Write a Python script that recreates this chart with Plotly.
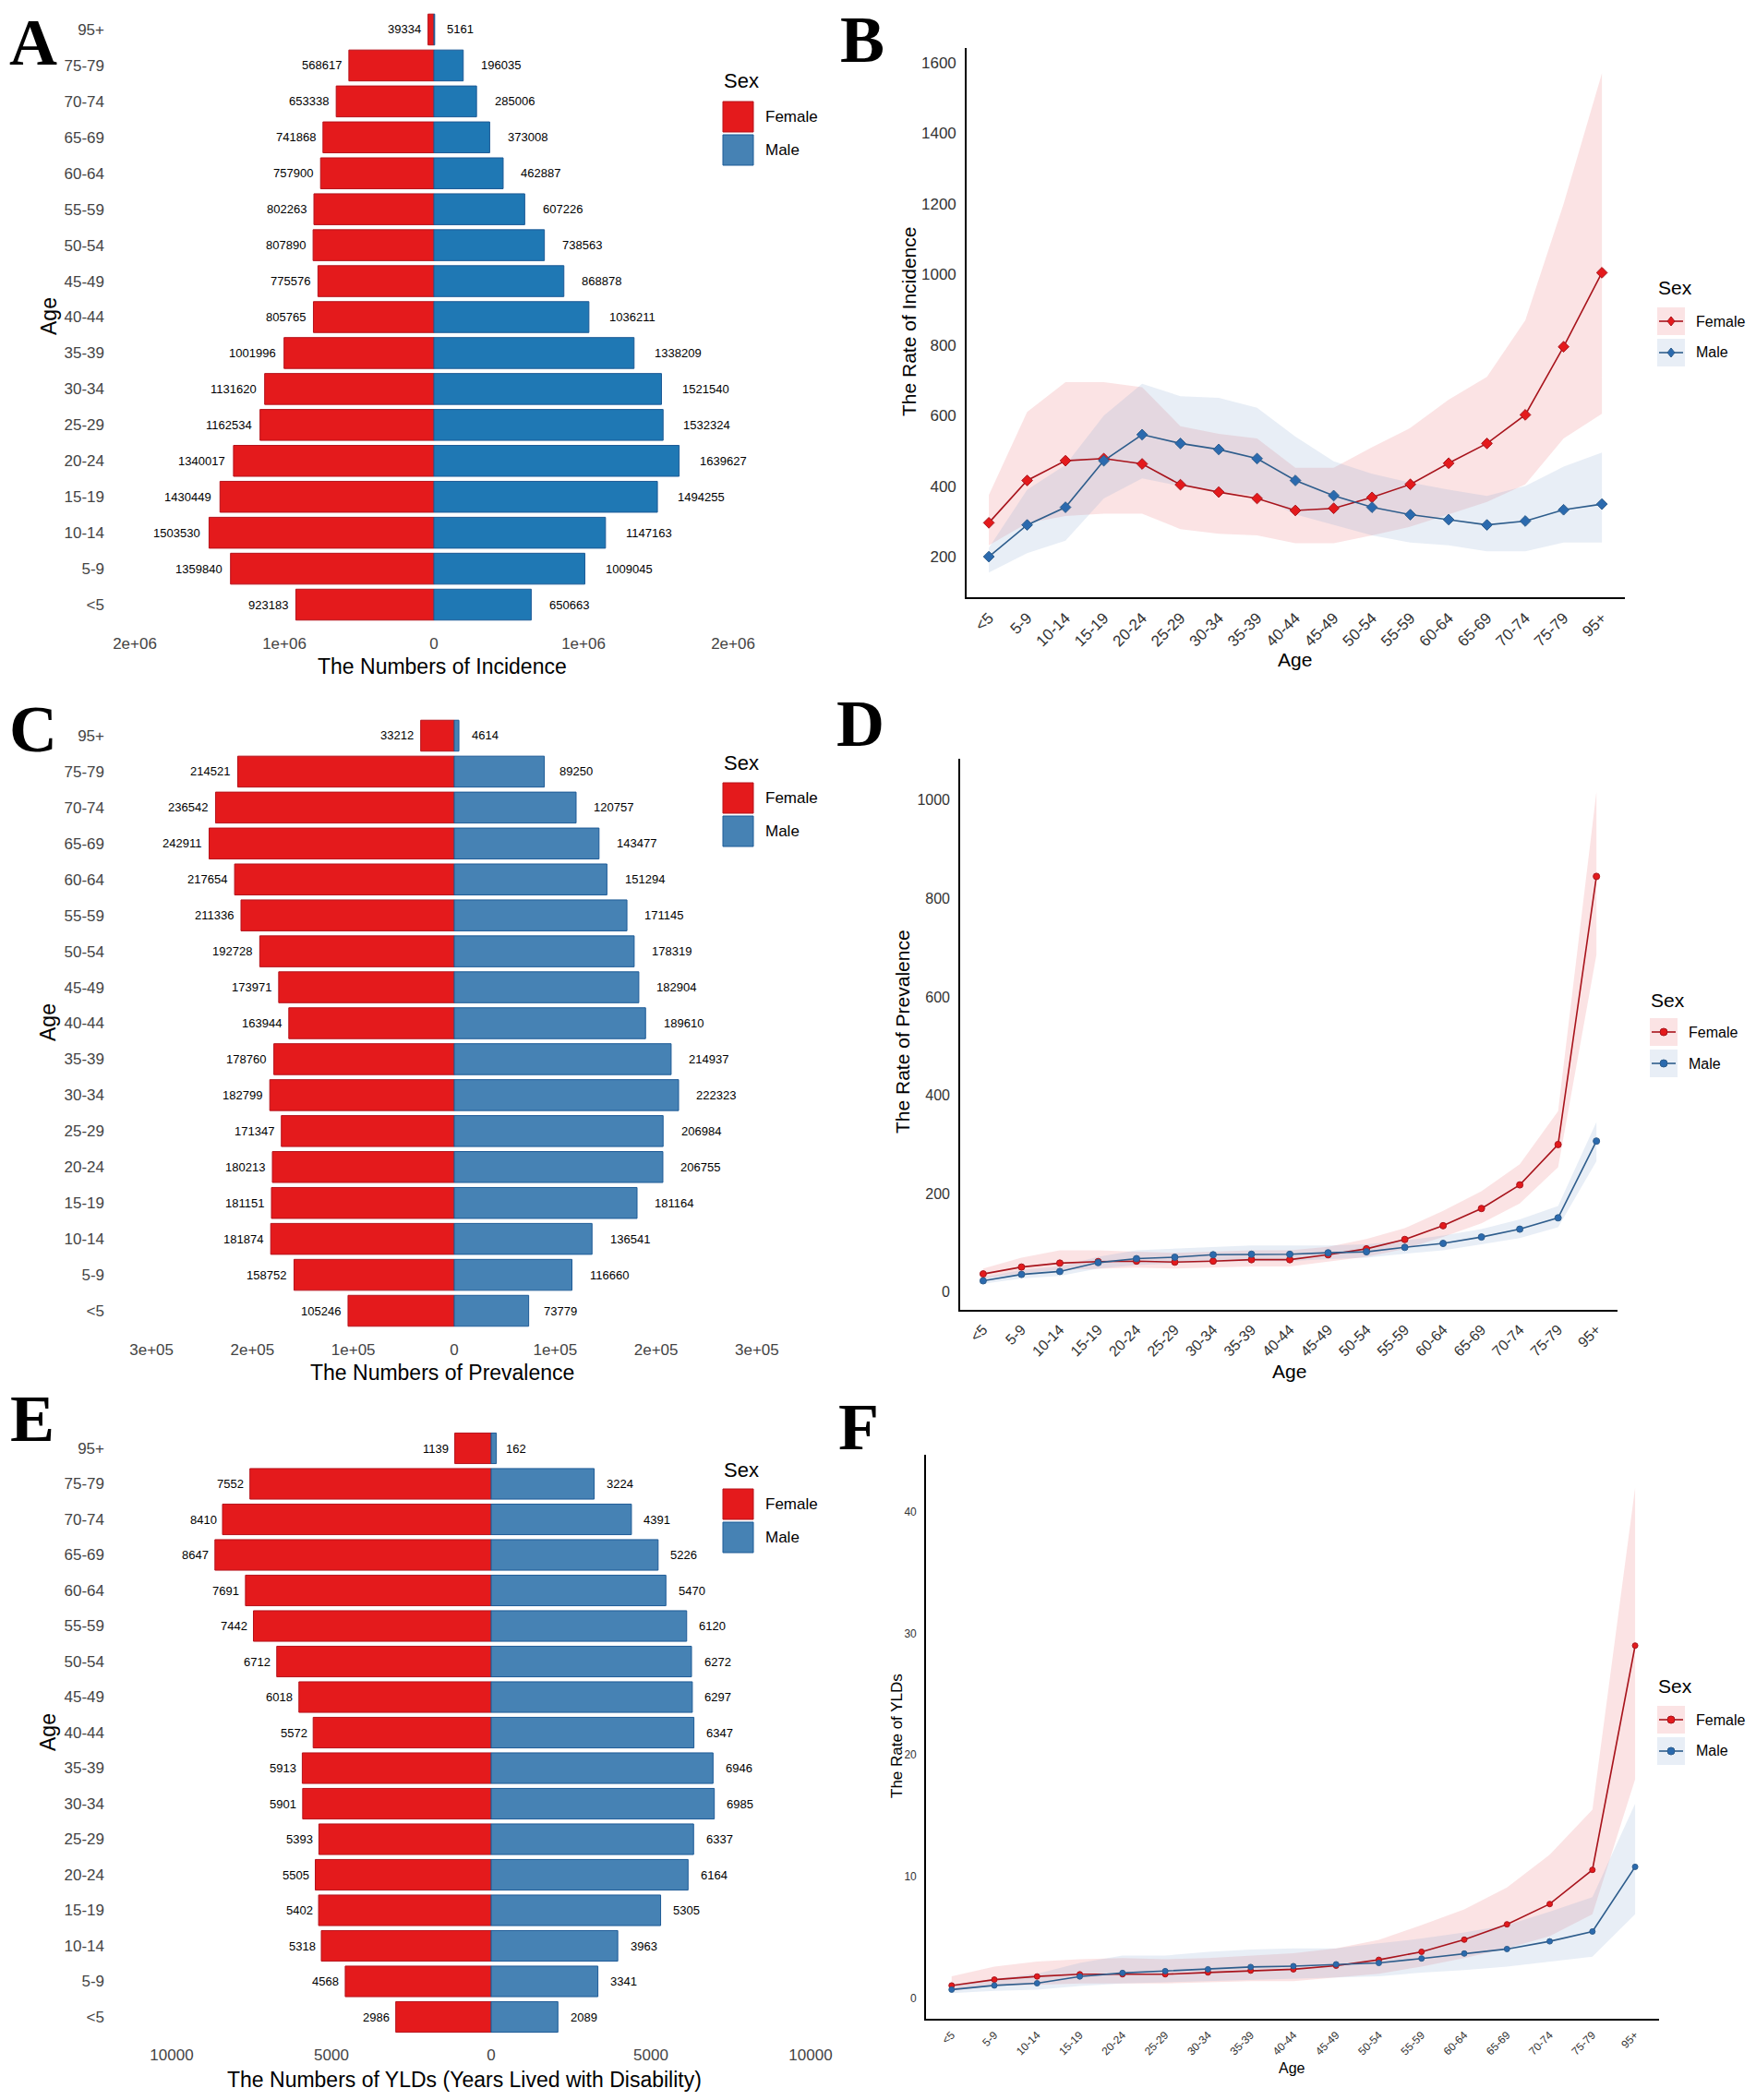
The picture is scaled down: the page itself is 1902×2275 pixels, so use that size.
import plotly.graph_objects as go

W, H = 1902, 2275

ages = ["<5", "5-9", "10-14", "15-19", "20-24", "25-29", "30-34", "35-39", "40-44",
        "45-49", "50-54", "55-59", "60-64", "65-69", "70-74", "75-79", "95+"]

# numbers (bar panels)
inc_female = [923183, 1359840, 1503530, 1430449, 1340017, 1162534, 1131620, 1001996, 805765,
              775576, 807890, 802263, 757900, 741868, 653338, 568617, 39334]
inc_male = [650663, 1009045, 1147163, 1494255, 1639627, 1532324, 1521540, 1338209, 1036211,
            868878, 738563, 607226, 462887, 373008, 285006, 196035, 5161]
prev_female = [105246, 158752, 181874, 181151, 180213, 171347, 182799, 178760, 163944,
               173971, 192728, 211336, 217654, 242911, 236542, 214521, 33212]
prev_male = [73779, 116660, 136541, 181164, 206755, 206984, 222323, 214937, 189610,
             182904, 178319, 171145, 151294, 143477, 120757, 89250, 4614]
yld_female = [2986, 4568, 5318, 5402, 5505, 5393, 5901, 5913, 5572,
              6018, 6712, 7442, 7691, 8647, 8410, 7552, 1139]
yld_male = [2089, 3341, 3963, 5305, 6164, 6337, 6985, 6946, 6347,
            6297, 6272, 6120, 5470, 5226, 4391, 3224, 162]

# rates (line panels)
inc_rate_f = [296, 416, 472, 478, 463, 404, 383, 365, 331, 337, 368, 405, 465, 521, 602, 795, 1005]
inc_rate_f_hi = [375, 610, 695, 695, 680, 570, 548, 535, 452, 452, 510, 565, 645, 710, 870, 1200, 1570]
inc_rate_f_lo = [232, 295, 315, 322, 322, 278, 265, 260, 238, 238, 260, 285, 320, 355, 405, 535, 605]
inc_rate_m = [200, 290, 340, 472, 546, 521, 504, 478, 416, 373, 340, 319, 305, 290, 301, 333, 349]
inc_rate_m_hi = [225, 390, 460, 600, 690, 655, 650, 622, 540, 470, 435, 410, 390, 372, 400, 455, 495]
inc_rate_m_lo = [155, 210, 245, 365, 422, 400, 385, 372, 320, 290, 260, 240, 232, 215, 215, 240, 240]

prev_rate_f = [37, 51, 59, 62, 63, 61, 63, 66, 66, 76, 88, 107, 135, 170, 218, 300, 845]
prev_rate_f_hi = [48, 70, 85, 85, 82, 80, 82, 85, 85, 92, 108, 130, 165, 205, 260, 368, 1017]
prev_rate_f_lo = [28, 38, 45, 48, 50, 48, 50, 52, 52, 62, 72, 88, 112, 140, 180, 254, 686]
prev_rate_m = [23, 36, 42, 60, 68, 71, 76, 77, 77, 80, 82, 91, 99, 112, 128, 151, 307]
prev_rate_m_hi = [30, 45, 52, 72, 85, 88, 92, 95, 95, 95, 97, 105, 115, 128, 148, 175, 346]
prev_rate_m_lo = [17, 28, 33, 48, 55, 58, 62, 63, 63, 67, 70, 78, 85, 97, 110, 132, 266]

yld_rate_f = [1.04, 1.52, 1.78, 1.96, 1.96, 1.96, 2.11, 2.26, 2.37, 2.67, 3.15, 3.81, 4.81, 6.07, 7.74, 10.55, 29.0]
yld_rate_f_hi = [1.8, 2.6, 3.0, 3.2, 3.3, 3.2, 3.3, 3.5, 3.7, 4.1, 4.8, 6.0, 7.3, 9.1, 11.8, 15.5, 42.0]
yld_rate_f_lo = [0.6, 1.0, 1.1, 1.2, 1.2, 1.2, 1.3, 1.4, 1.4, 1.7, 2.0, 2.6, 3.3, 4.1, 5.1, 6.9, 18.0]
yld_rate_m = [0.70, 1.04, 1.22, 1.78, 2.07, 2.22, 2.37, 2.56, 2.63, 2.78, 2.89, 3.26, 3.67, 4.04, 4.67, 5.48, 10.8]
yld_rate_m_hi = [1.0, 1.6, 2.0, 2.9, 3.5, 3.5, 3.8, 4.0, 4.1, 4.1, 4.5, 4.9, 5.4, 6.0, 7.1, 8.3, 16.0]
yld_rate_m_lo = [0.4, 0.6, 0.7, 1.0, 1.2, 1.3, 1.4, 1.5, 1.6, 1.7, 1.8, 2.1, 2.3, 2.6, 3.0, 3.4, 6.9]

inc_ticks = [-2e6, -1e6, 0, 1e6, 2e6]
inc_ticktext = ["2e+06", "1e+06", "0", "1e+06", "2e+06"]
prev_ticks = [-3e5, -2e5, -1e5, 0, 1e5, 2e5, 3e5]
prev_ticktext = ["3e+05", "2e+05", "1e+05", "0", "1e+05", "2e+05", "3e+05"]
yld_ticks = [-10000, -5000, 0, 5000, 10000]
yld_ticktext = ["10000", "5000", "0", "5000", "10000"]

FONT = "Liberation Sans, Arial, sans-serif"
RED = "#E41A1C"
RED_EDGE = "#B5121B"
BLUE_A = "#1F78B4"
STEEL = "#4682B4"
BLUE_EDGE = "#1D5A96"
F_LINE = "#A8141C"
M_LINE = "#2E5D8C"
M_MARK = "#2B6AAE"
F_BAND = "rgba(235,115,120,0.2)"
M_BAND = "rgba(140,170,210,0.2)"


def px(x):
    return x / W


def py(y):
    return 1 - y / H


fig = go.Figure()
annotations = []
shapes = []


def add_text(x, y, text, size, color="black", xanchor="center", angle=0, family=FONT, weight="normal"):
    annotations.append(dict(x=px(x), y=py(y), xref="paper", yref="paper", text=text,
                            showarrow=False, xanchor=xanchor, yanchor="middle", textangle=angle,
                            font=dict(family=family, size=size, color=color, weight=weight)))


def bar_panel(n, female, male, male_color, zero_px, px_per_unit, top, bottom, ticks, ticktext):
    xa = "x" if n == 1 else "x%d" % n
    ya = "y" if n == 1 else "y%d" % n
    half = (zero_px - 122) / px_per_unit
    fig.add_trace(go.Bar(y=ages, x=[-v for v in female], orientation="h", width=0.86,
                         marker=dict(color=RED, line=dict(color=RED_EDGE, width=1)),
                         xaxis=xa, yaxis=ya, showlegend=False))
    fig.add_trace(go.Bar(y=ages, x=male, orientation="h", width=0.86,
                         marker=dict(color=male_color, line=dict(color=BLUE_EDGE, width=1)),
                         xaxis=xa, yaxis=ya, showlegend=False))
    for a, v in zip(ages, female):
        w = len(str(v)) * 0.556 * 13
        annotations.append(dict(x=-v, y=a, xref=xa, yref=ya, text=str(v), showarrow=False,
                                xanchor="right", xshift=-(0.12 * w + 1),
                                font=dict(family=FONT, size=13, color="black")))
    for a, v in zip(ages, male):
        w = len(str(v)) * 0.556 * 13
        annotations.append(dict(x=v, y=a, xref=xa, yref=ya, text=str(v), showarrow=False,
                                xanchor="left", xshift=0.4 * w,
                                font=dict(family=FONT, size=13, color="black")))
    key = "xaxis" if n == 1 else "xaxis%d" % n
    fig.layout[key] = dict(domain=[px(122), px(2 * zero_px - 122)], anchor=ya,
                           range=[-half, half], tickvals=ticks, ticktext=ticktext,
                           showgrid=False, zeroline=False, showline=False, ticks="",
                           ticklabelstandoff=10,
                           tickfont=dict(family=FONT, size=17, color="#444444"))
    key = "yaxis" if n == 1 else "yaxis%d" % n
    fig.layout[key] = dict(domain=[py(bottom), py(top)], anchor=xa, type="category",
                           categoryorder="array", categoryarray=ages, range=[-0.5, 16.5],
                           showgrid=False, zeroline=False, showline=False, ticks="",
                           ticklabelstandoff=8,
                           tickfont=dict(family=FONT, size=17, color="#444444"))


def line_panel(n, mean_f, hi_f, lo_f, mean_m, hi_m, lo_m, symbol, msize, xdom, ydom, xr, yr,
               yticks, tsize):
    xa = "x%d" % n
    ya = "y%d" % n
    for hi, lo, band in ((hi_f, lo_f, F_BAND), (hi_m, lo_m, M_BAND)):
        fig.add_trace(go.Scatter(x=ages, y=hi, mode="lines", line=dict(width=0),
                                 xaxis=xa, yaxis=ya, showlegend=False, hoverinfo="skip"))
        fig.add_trace(go.Scatter(x=ages, y=lo, mode="lines", line=dict(width=0),
                                 fill="tonexty", fillcolor=band,
                                 xaxis=xa, yaxis=ya, showlegend=False, hoverinfo="skip"))
    fig.add_trace(go.Scatter(x=ages, y=mean_f, mode="lines+markers",
                             line=dict(color=F_LINE, width=1.6),
                             marker=dict(symbol=symbol, size=msize, color=RED,
                                         line=dict(color=F_LINE, width=1)),
                             xaxis=xa, yaxis=ya, showlegend=False, name="Female"))
    fig.add_trace(go.Scatter(x=ages, y=mean_m, mode="lines+markers",
                             line=dict(color=M_LINE, width=1.6),
                             marker=dict(symbol=symbol, size=msize, color=M_MARK,
                                         line=dict(color=M_LINE, width=1)),
                             xaxis=xa, yaxis=ya, showlegend=False, name="Male"))
    fig.layout["xaxis%d" % n] = dict(domain=[px(xdom[0]), px(xdom[1])], anchor=ya,
                                     type="category", categoryorder="array", categoryarray=ages,
                                     range=xr, showgrid=False, zeroline=False,
                                     showline=True, linecolor="black", linewidth=1.6,
                                     ticks="", tickangle=-45, ticklabelstandoff=4,
                                     tickfont=dict(family=FONT, size=tsize, color="#333333"))
    fig.layout["yaxis%d" % n] = dict(domain=[py(ydom[1]), py(ydom[0])], anchor=xa,
                                     range=yr, tickvals=yticks, showgrid=False, zeroline=False,
                                     showline=True, linecolor="black", linewidth=1.6,
                                     ticks="", ticklabelstandoff=6,
                                     tickfont=dict(family=FONT, size=tsize, color="#333333"))


def bar_legend(x, title_y, key_top, key_w=33, key_h=33, gap=3):
    add_text(x, title_y, "Sex", 22, xanchor="left")
    for i, (lab, col, edge) in enumerate((("Female", RED, RED_EDGE), ("Male", STEEL, BLUE_EDGE))):
        t = key_top + i * (key_h + gap)
        shapes.append(dict(type="rect", xref="paper", yref="paper",
                           x0=px(x + 1), x1=px(x + 1 + key_w), y0=py(t + key_h), y1=py(t),
                           fillcolor=col, line=dict(color=edge, width=1)))
        add_text(x + key_w + 12, t + key_h / 2, lab, 17, xanchor="left")


def line_legend(x, title_y, key_top, symbol, key_w=30, key_h=30, gap=4, size=21, lsize=16):
    add_text(x, title_y, "Sex", size, xanchor="left")
    items = (("Female", F_BAND, F_LINE, RED), ("Male", M_BAND, M_LINE, M_MARK))
    for i, (lab, band, lc, mc) in enumerate(items):
        t = key_top + i * (key_h + gap)
        cx, cy = x + 1 + key_w / 2, t + key_h / 2
        shapes.append(dict(type="rect", xref="paper", yref="paper",
                           x0=px(x + 1), x1=px(x + 1 + key_w), y0=py(t + key_h), y1=py(t),
                           fillcolor=band, line=dict(width=0)))
        shapes.append(dict(type="line", xref="paper", yref="paper",
                           x0=px(x + 3), x1=px(x + key_w - 1), y0=py(cy), y1=py(cy),
                           line=dict(color=lc, width=1.6)))
        r = 4
        if symbol == "diamond":
            path = "M %f %f L %f %f L %f %f L %f %f Z" % (
                px(cx), py(cy - r - 1), px(cx + r), py(cy), px(cx), py(cy + r + 1), px(cx - r), py(cy))
            shapes.append(dict(type="path", xref="paper", yref="paper", path=path,
                               fillcolor=mc, line=dict(color=lc, width=1)))
        else:
            shapes.append(dict(type="circle", xref="paper", yref="paper",
                               x0=px(cx - r), x1=px(cx + r), y0=py(cy + r), y1=py(cy - r),
                               fillcolor=mc, line=dict(color=lc, width=1)))
        add_text(x + key_w + 11, cy, lab, lsize, xanchor="left")


# A, C, E: population pyramids
bar_panel(1, inc_female, inc_male, BLUE_A, 470, 162 / 1e6, 12.5, 674.5, inc_ticks, inc_ticktext)
bar_panel(3, prev_female, prev_male, STEEL, 492, 109.3 / 1e5, 777.5, 1439.5, prev_ticks, prev_ticktext)
bar_panel(5, yld_female, yld_male, STEEL, 532, 173 / 5000, 1549.75, 2204.25, yld_ticks, yld_ticktext)

# B, D, F: rates by age
line_panel(2, inc_rate_f, inc_rate_f_hi, inc_rate_f_lo, inc_rate_m, inc_rate_m_hi, inc_rate_m_lo,
           "diamond", 9, (1047, 1760), (52, 647), [-0.58, 16.6], [85, 1642],
           [200, 400, 600, 800, 1000, 1200, 1400, 1600], 17)
line_panel(4, prev_rate_f, prev_rate_f_hi, prev_rate_f_lo, prev_rate_m, prev_rate_m_hi, prev_rate_m_lo,
           "circle", 7, (1040, 1752), (822, 1419), [-0.6, 16.55], [-36, 1084],
           [0, 200, 400, 600, 800, 1000], 16)
line_panel(6, yld_rate_f, yld_rate_f_hi, yld_rate_f_lo, yld_rate_m, yld_rate_m_hi, yld_rate_m_lo,
           "circle", 6, (1003, 1797), (1576, 2187), [-0.6, 16.56], [-1.7, 44.7],
           [0, 10, 20, 30, 40], 12)

# axis titles
add_text(479, 722, "The Numbers of Incidence", 23)
add_text(53, 343, "Age", 23, angle=-90)
add_text(479, 1487, "The Numbers of Prevalence", 23)
add_text(52, 1108, "Age", 23, angle=-90)
add_text(503, 2253, "The Numbers of YLDs (Years Lived with Disability)", 23)
add_text(52, 1877, "Age", 23, angle=-90)
add_text(985, 349, "The Rate of Incidence", 21, angle=-90)
add_text(1402, 714, "Age", 21)
add_text(977, 1118, "The Rate of Prevalence", 21, angle=-90)
add_text(1396, 1485, "Age", 21)
add_text(971, 1881, "The Rate of YLDs", 17, angle=-90)
add_text(1399, 2240, "Age", 16)

# legends
bar_legend(782, 87, 110)
bar_legend(782, 827, 848)
bar_legend(782, 1592, 1613)
line_legend(1794, 312, 333, "diamond")
line_legend(1786, 1083, 1103, "circle")
line_legend(1794, 1827, 1848, "circle")

# panel letters
for letter, lx, ly in (("A", 36, 46), ("B", 934, 43), ("C", 36, 790),
                       ("D", 932, 784), ("E", 35, 1537), ("F", 930, 1546)):
    add_text(lx, ly, letter, 72, family="Liberation Serif, Times New Roman, serif", weight="bold")

fig.update_layout(
    width=W, height=H,
    margin=dict(l=0, r=0, t=0, b=0),
    paper_bgcolor="white", plot_bgcolor="white",
    barmode="relative",
    showlegend=False,
    annotations=annotations,
    shapes=shapes,
)

fig.write_html("out.html", config={"displayModeBar": False},
               post_script="document.body.style.margin = '0px';")
